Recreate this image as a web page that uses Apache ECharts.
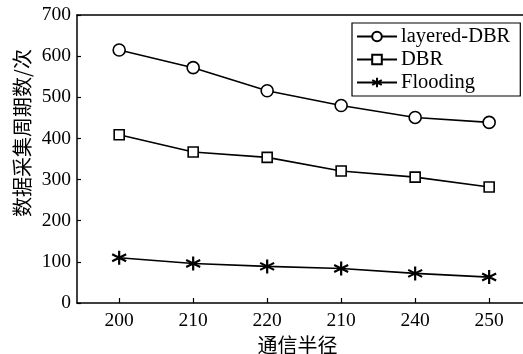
<!DOCTYPE html>
<html>
<head>
<meta charset="utf-8">
<script src="https://cdn.jsdelivr.net/npm/echarts@6/dist/echarts.min.js"></script>
<style>
html,body{margin:0;padding:0;background:#fff;}
#chart{width:523px;height:354px;}
</style>
</head>
<body>
<div id="chart"></div>
<script>
const categories = ['200', '210', '220', '210', '240', '250'];
const layeredDBR = [615, 572, 516, 480, 451, 439];
const dbr = [409, 367, 354, 321, 306, 282];
const flooding = [110, 96, 89, 84, 72, 63];
const yTicks = [0, 100, 200, 300, 400, 500, 600, 700];
const seriesNames = ['layered-DBR', 'DBR', 'Flooding'];
const yTitle = '数据采集周期数/次';
const xTitle = '通信半径';

const serif = '"Liberation Serif", "Times New Roman", serif';
const cjk = '"Noto Sans CJK SC", sans-serif';
const asterisk = 'path://M6 0 L6 12 M0.8 3 L11.2 9 M0.8 9 L11.2 3';

function toPairs(arr) { return arr.map((v, i) => [i, v]); }

function mkSeries(name, data, symbol, size, bw) {
  return {
    name: name,
    type: 'line',
    data: toPairs(data),
    symbol: symbol,
    symbolSize: size,
    showAllSymbol: true,
    lineStyle: { color: '#000', width: 1.6 },
    itemStyle: { color: '#fff', borderColor: '#000', borderWidth: bw },
    emphasis: { disabled: true },
    animation: false,
    z: 3
  };
}

const chart = echarts.init(document.getElementById('chart'), null, { renderer: 'canvas' });
chart.setOption({
  animation: false,
  backgroundColor: '#fff',
  grid: {
    left: 77, top: 15, right: -5, bottom: 51,
    outerBoundsMode: 'none',
    containLabel: false,
    show: false
  },
  graphic: [{
    type: 'text',
    x: 22, y: 133,
    rotation: Math.PI / 2,
    style: {
      text: yTitle,
      font: '20px "Noto Sans CJK SC", sans-serif',
      fill: '#000',
      align: 'center',
      verticalAlign: 'middle'
    }
  }],
  legend: {
    data: seriesNames,
    orient: 'vertical',
    left: 352, top: 23,
    width: 168,
    itemWidth: 40, itemHeight: 12,
    itemGap: 2,
    padding: [3, 10, 3, 4],
    borderColor: '#000', borderWidth: 1.2,
    backgroundColor: '#fff',
    textStyle: { fontFamily: serif, fontSize: 20.5, color: '#000', padding: [0, 0, 0, -1] },
    selectedMode: false
  },
  xAxis: [{
    type: 'value',
    min: -0.57,
    max: 5.525,
    name: xTitle,
    nameLocation: 'middle',
    nameGap: 27,
    nameTextStyle: { fontFamily: cjk, fontSize: 20, color: '#000', padding: [0, 10, 0, 0] },
    axisLine: { show: true, onZero: false, lineStyle: { color: '#000', width: 1.5 } },
    axisTick: { show: true, inside: true, length: 5, customValues: [0, 1, 2, 3, 4, 5], lineStyle: { color: '#000', width: 1.2 } },
    axisLabel: {
      customValues: [0, 1, 2, 3, 4, 5],
      formatter: v => categories[Math.round(v)],
      fontFamily: serif, fontSize: 19.5, color: '#000', margin: 8
    },
    splitLine: { show: false }
  }, {
    type: 'value',
    position: 'top',
    min: -0.57,
    max: 5.525,
    axisLine: { show: true, onZero: false, lineStyle: { color: '#000', width: 1.5 } },
    axisTick: { show: false },
    axisLabel: { show: false },
    splitLine: { show: false }
  }],
  yAxis: {
    type: 'value',
    min: 0, max: 700, interval: 100,
    axisLine: { show: true, onZero: false, lineStyle: { color: '#000', width: 1.5 } },
    axisTick: { show: true, inside: true, length: 4, customValues: yTicks, lineStyle: { color: '#000', width: 1.2 } },
    axisLabel: { customValues: yTicks, fontFamily: serif, fontSize: 19.5, color: '#000', margin: 6 },
    splitLine: { show: false }
  },
  series: [
    mkSeries(seriesNames[0], layeredDBR, 'circle', 12, 1.6),
    mkSeries(seriesNames[1], dbr, 'rect', 10, 1.6),
    mkSeries(seriesNames[2], flooding, asterisk, 14, 2.2)
  ]
});
</script>
</body>
</html>
